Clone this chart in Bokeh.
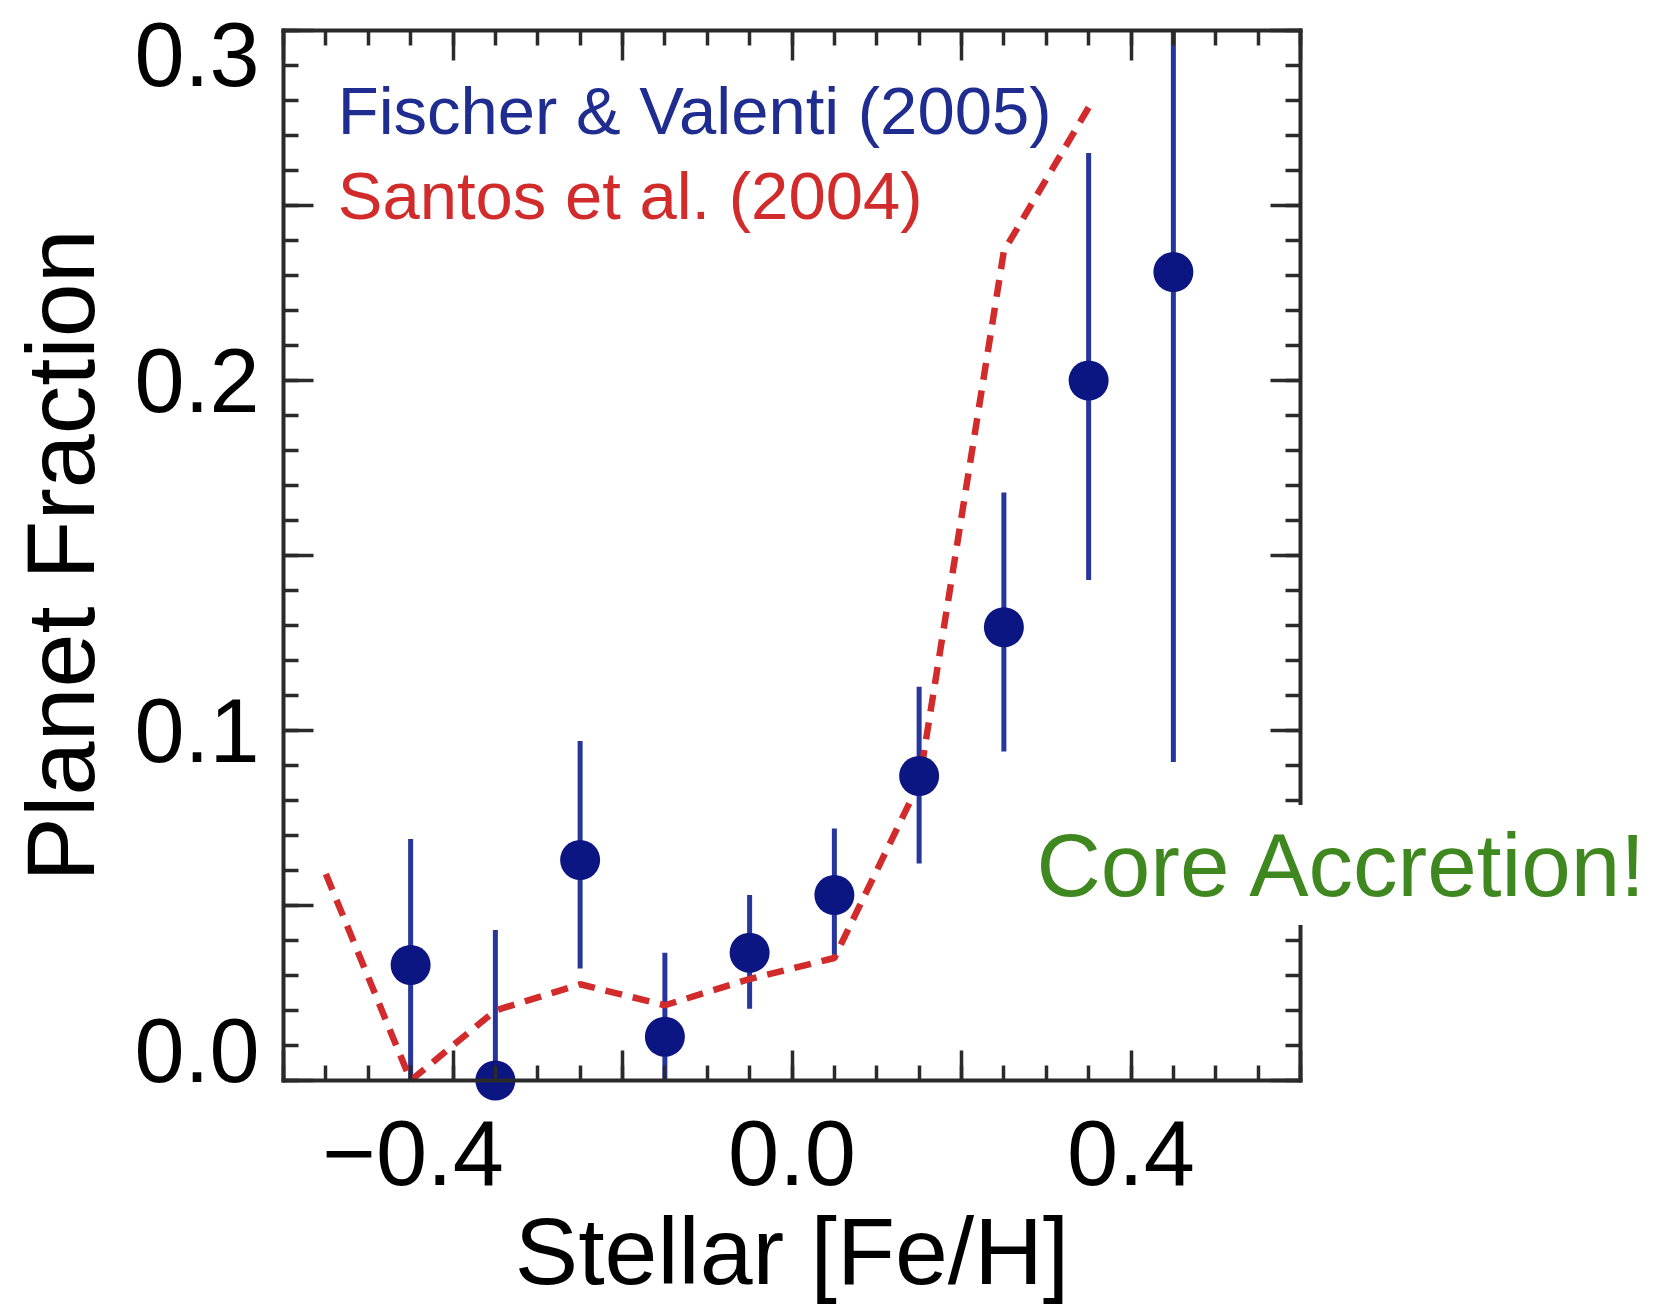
from bokeh.plotting import figure
from bokeh.models import (Range1d, LinearAxis, FixedTicker, Label, LabelSet,
                          ColumnDataSource, CustomJSTickFormatter)
from bokeh.core.properties import value
from bokeh.embed import file_html
from bokeh.resources import INLINE

# ---- data ----
feh_fv = [-0.45, -0.35, -0.25, -0.15, -0.05, 0.05, 0.15, 0.25, 0.35, 0.45]
frac_fv = [0.033, 0.0, 0.063, 0.0125, 0.0365, 0.053, 0.087, 0.1295, 0.200, 0.231]
err_lo_fv = [0.0, 0.0, 0.032, 0.0, 0.0205, 0.035, 0.062, 0.094, 0.143, 0.091]
err_hi_fv = [0.069, 0.043, 0.097, 0.0365, 0.053, 0.072, 0.1125, 0.168, 0.265, 0.3]

feh_santos = [-0.55, -0.45, -0.35, -0.25, -0.15, -0.05, 0.05, 0.15, 0.25, 0.35]
frac_santos = [0.059, 0.0, 0.020, 0.0275, 0.0215, 0.029, 0.035, 0.085, 0.237, 0.278]

x_major_ticks = [-0.6, -0.4, -0.2, 0.0, 0.2, 0.4, 0.6]
x_minor_ticks = [-0.6, -0.55, -0.5, -0.45, -0.4, -0.35, -0.3, -0.25, -0.2, -0.15, -0.1, -0.05,
                 0.0, 0.05, 0.1, 0.15, 0.2, 0.25, 0.3, 0.35, 0.4, 0.45, 0.5, 0.55, 0.6]
x_label_values = [-0.4, 0.0, 0.4]
x_label_texts = ["\u22120.4", "0.0", "0.4"]

y_major_ticks = [0.0, 0.05, 0.1, 0.15, 0.2, 0.25, 0.3]
y_minor_ticks = [0.0, 0.01, 0.02, 0.03, 0.04, 0.05, 0.06, 0.07, 0.08, 0.09, 0.1,
                 0.11, 0.12, 0.13, 0.14, 0.15, 0.16, 0.17, 0.18, 0.19, 0.2,
                 0.21, 0.22, 0.23, 0.24, 0.25, 0.26, 0.27, 0.28, 0.29, 0.3]
y_label_values = [0.0, 0.1, 0.2, 0.3]
y_label_texts = ["0.0", "0.1", "0.2", "0.3"]

# label nudges in screen pixels (style, not data)
x_label_dx = [-40, 0, 0]
y_label_dy = [30, 0, 0, -24]

FONT = "Liberation Sans"
AXC = "#2a2a2a"
BLUE_DOT = "#0b1682"
BLUE_BAR = "#26369c"
BLUE_TXT = "#1f2c90"
RED = "#d22b2b"
GREEN = "#3f871f"

X0, X1 = -0.6, 0.6
Y0, Y1 = 0.0, 0.3
PX_X = 847.5   # pixels per unit [Fe/H]
PX_Y = 3500.0  # pixels per unit fraction
FL, FT = 283, 1080  # pixel position of x=X0 and y=Y0
W, H = 1658, 1309

p = figure(width=W, height=H,
           x_range=Range1d(X0 - FL / PX_X, X0 + (W - FL) / PX_X),
           y_range=Range1d(Y0 - (H - FT) / PX_Y, Y0 + FT / PX_Y),
           output_backend="svg", toolbar_location=None,
           x_axis_location=None, y_axis_location=None,
           min_border=0, min_border_left=0, min_border_right=0,
           min_border_top=0, min_border_bottom=0)
p.outline_line_color = None
p.background_fill_color = "white"
p.border_fill_color = "white"
p.xgrid.visible = False
p.ygrid.visible = False

blank = CustomJSTickFormatter(code="return ''")


def style(ax):
    ax.formatter = blank
    ax.axis_line_color = AXC
    ax.axis_line_width = 4
    ax.axis_line_cap = "square"
    ax.major_tick_line_color = AXC
    ax.minor_tick_line_color = AXC
    ax.major_tick_line_width = 3.5
    ax.minor_tick_line_width = 3.5
    ax.major_tick_in = 30
    ax.major_tick_out = 0
    ax.minor_tick_in = 15
    ax.minor_tick_out = 0
    ax.major_label_standoff = 0
    ax.axis_label_text_font = FONT
    ax.axis_label_text_font_style = "normal"
    ax.axis_label_text_color = "black"


xticker = FixedTicker(ticks=x_major_ticks, minor_ticks=x_minor_ticks)
yticker = FixedTicker(ticks=y_major_ticks, minor_ticks=y_minor_ticks)

xb = LinearAxis(ticker=xticker, fixed_location=Y0, bounds=(X0, X1),
                axis_label="Stellar [Fe/H]")
style(xb)
xb.axis_label_text_font_size = "95px"
xb.axis_label_standoff = 117
p.add_layout(xb, "below")

xt = LinearAxis(ticker=xticker, fixed_location=Y1, bounds=(X0, X1))
style(xt)
p.add_layout(xt, "above")

yl = LinearAxis(ticker=yticker, fixed_location=X0, bounds=(Y0, Y1),
                axis_label="Planet Fraction")
style(yl)
yl.axis_label_text_font_size = "97px"
yl.axis_label_standoff = 169
p.add_layout(yl, "left")

yr = LinearAxis(ticker=yticker, fixed_location=X1, bounds=(Y0, Y1))
style(yr)
p.add_layout(yr, "right")

# tick labels
xsrc = ColumnDataSource(dict(x=x_label_values, text=x_label_texts, dx=x_label_dx))
p.add_layout(LabelSet(x="x", y=Y0, text="text", source=xsrc, x_offset="dx", y_offset=-72,
                      text_align="center", text_baseline="middle",
                      text_font=value(FONT), text_font_size=value("92px"),
                      text_color=value("black")))
ysrc = ColumnDataSource(dict(y=y_label_values, text=y_label_texts, dy=y_label_dy))
p.add_layout(LabelSet(x=X0, y="y", text="text", source=ysrc, x_offset=-24, y_offset="dy",
                      text_align="right", text_baseline="middle",
                      text_font=value(FONT), text_font_size=value("90px"),
                      text_color=value("black")))

# data marks
p.segment(x0=feh_fv, y0=err_lo_fv, x1=feh_fv, y1=err_hi_fv,
          line_color=BLUE_BAR, line_width=5)
p.line(feh_santos, frac_santos, line_color=RED, line_width=6.5,
       line_dash="17 11", line_cap="butt")
p.scatter(feh_fv, frac_fv, size=40, fill_color=BLUE_DOT, line_color=None)

# legend texts
p.add_layout(Label(x=-0.536, y=0.2771, text="Fischer & Valenti (2005)",
                   text_font=FONT, text_font_size="67px", text_color=BLUE_TXT,
                   text_baseline="middle"))
p.add_layout(Label(x=-0.536, y=0.2530, text="Santos et al. (2004)",
                   text_font=FONT, text_font_size="67px", text_color=RED,
                   text_baseline="middle"))

p.add_layout(Label(x=0.2767, y=0.0616, text="Core Accretion!",
                   text_font=FONT, text_font_size="89px", text_color=GREEN,
                   text_baseline="middle",
                   background_fill_color="white", padding=10))

open("out.html", "w").write(file_html(p, INLINE))
